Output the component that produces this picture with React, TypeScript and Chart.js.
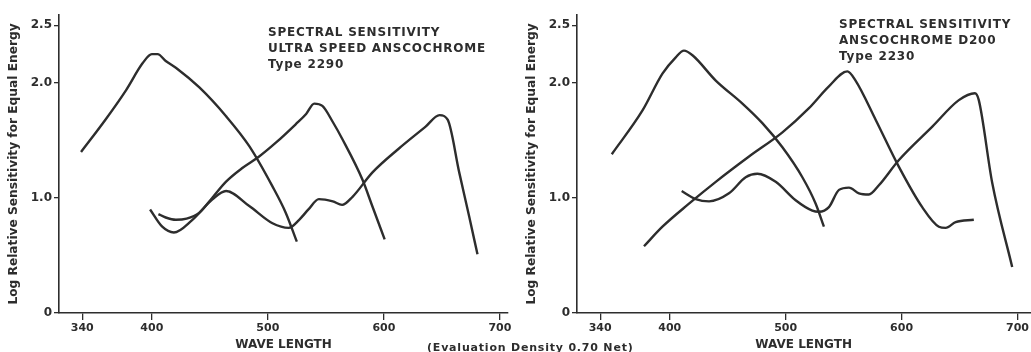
import React, { useEffect, useRef } from "react";
import { Chart, registerables } from "chart.js";

Chart.register(...registerables);

// ---- data (wavelength in nm, log relative sensitivity) ----
const xTicks = [340, 400, 500, 600, 700];
const yTicks = [0, 1, 2, 2.5];

// Ultra Speed Anscochrome Type 2290
const leftBlueX = [339, 360, 378, 392, 400, 405, 412, 421, 441, 464, 484, 504, 515.5, 525];
const leftBlueY = [1.4, 1.68, 1.94, 2.17, 2.25, 2.25, 2.19, 2.13, 1.96, 1.71, 1.45, 1.1, 0.87, 0.62];
const leftGreenX = [405.7, 412, 420.7, 430, 440.8, 452, 463.8, 478, 492.5, 506.9, 524, 533, 540, 547, 556, 564.3, 581.5, 590, 600.7];
const leftGreenY = [0.86, 0.83, 0.81, 0.82, 0.87, 1.0, 1.14, 1.26, 1.36, 1.48, 1.64, 1.73, 1.82, 1.8, 1.66, 1.51, 1.16, 0.93, 0.64];
const leftRedX = [398.5, 409, 419, 435, 452, 464, 484, 504, 518, 527, 535, 544, 556, 564, 573, 590, 613, 636, 648, 655, 665, 673.5, 680.7];
const leftRedY = [0.9, 0.75, 0.7, 0.81, 0.985, 1.06, 0.93, 0.78, 0.74, 0.81, 0.9, 0.99, 0.97, 0.94, 1.01, 1.22, 1.43, 1.62, 1.72, 1.68, 1.22, 0.84, 0.51];

// Anscochrome D200 Type 2230
const rightBlueX = [350, 376.5, 393.7, 405, 412.3, 419.6, 439.7, 462.7, 479.9, 497.2, 514.4, 525.9, 533];
const rightBlueY = [1.38, 1.76, 2.08, 2.22, 2.28, 2.24, 2.02, 1.82, 1.65, 1.44, 1.18, 0.95, 0.75];
const rightGreenX = [377.8, 393.7, 416.6, 439.7, 468.4, 497.2, 520.1, 537.3, 553.2, 560.3, 577.6, 597.7, 617.8, 632.2, 638, 646.6, 662.3];
const rightGreenY = [0.58, 0.75, 0.95, 1.14, 1.36, 1.57, 1.78, 1.97, 2.1, 2.02, 1.68, 1.27, 0.92, 0.75, 0.74, 0.79, 0.81];
const rightRedX = [410.3, 422.4, 433.9, 451.1, 465.5, 475.6, 491.4, 508.6, 523, 528.7, 537.3, 546, 554.6, 563.2, 571.8, 580.4, 597.7, 626.5, 649.4, 663.2, 666.6, 678.2, 695.4];
const rightRedY = [1.06, 0.99, 0.97, 1.04, 1.18, 1.21, 1.14, 0.98, 0.89, 0.88, 0.92, 1.07, 1.09, 1.04, 1.03, 1.11, 1.33, 1.62, 1.85, 1.91, 1.85, 1.13, 0.4];

const leftTitle = ["SPECTRAL SENSITIVITY", "ULTRA SPEED ANSCOCHROME", "Type 2290"];
const rightTitle = ["SPECTRAL SENSITIVITY", "ANSCOCHROME D200", "Type 2230"];
const yTitle = "Log Relative Sensitivity for Equal Energy";
const xTitle = "WAVE LENGTH";
const footnote = "(Evaluation Density 0.70 Net)";

const INK = "#2d2d2d";
const FONT = "'DejaVu Sans', sans-serif";

const zip = (xs: number[], ys: number[]) => xs.map((x, i) => ({ x, y: ys[i] }));

function makeConfig(series: { x: number[]; y: number[] }[], xMax: number, yWidth: number, padRight: number): any {
  return {
    type: "line",
    data: {
      datasets: series.map((s) => ({
        data: zip(s.x, s.y),
        borderColor: INK,
        borderWidth: 2.4,
        pointRadius: 0,
        fill: false,
        cubicInterpolationMode: "monotone",
      })),
    },
    options: {
      animation: false,
      responsive: true,
      maintainAspectRatio: false,
      layout: { padding: { top: 15, right: padRight, left: 0, bottom: 0 } },
      plugins: { legend: { display: false }, tooltip: { enabled: false } },
      scales: {
        x: {
          type: "linear",
          min: 320,
          max: xMax,
          afterBuildTicks: (s: any) => {
            s.ticks = xTicks.map((v) => ({ value: v }));
          },
          afterFit: (s: any) => {
            s.height = 39;
          },
          grid: { display: true, drawOnChartArea: false, drawTicks: true, tickLength: 7, color: INK, lineWidth: 1.3 },
          border: { display: true, color: INK, width: 1.6 },
          ticks: {
            color: INK,
            font: { family: FONT, size: 11, weight: "bold" },
            padding: 2,
            maxRotation: 0,
            autoSkip: false,
          },
          title: {
            display: true,
            text: xTitle,
            color: INK,
            font: { family: FONT, size: 12, weight: "bold" },
            padding: { top: 0, bottom: 0 },
          },
        },
        y: {
          type: "linear",
          min: 0,
          max: 2.59,
          afterBuildTicks: (s: any) => {
            s.ticks = yTicks.map((v) => ({ value: v }));
          },
          afterFit: (s: any) => {
            s.width = yWidth;
          },
          grid: { display: true, drawOnChartArea: false, drawTicks: true, tickLength: 5, color: INK, lineWidth: 1.3 },
          border: { display: true, color: INK, width: 1.6 },
          ticks: {
            color: INK,
            font: { family: FONT, size: 12, weight: "bold" },
            padding: 2,
            autoSkip: false,
            callback: (v: number) => (v === 0 ? "0" : v.toFixed(1)),
          },
          title: {
            display: true,
            text: yTitle,
            color: INK,
            font: { family: FONT, size: 12.2, weight: "bold" },
            padding: { top: yWidth - 52, bottom: 0 },
          },
        },
      },
    },
  };
}

function Panel({ series, xMax, yWidth, padRight, left, width }: any) {
  const ref = useRef<HTMLCanvasElement>(null);
  useEffect(() => {
    const chart = new Chart(ref.current as HTMLCanvasElement, makeConfig(series, xMax, yWidth, padRight));
    return () => chart.destroy();
  }, []);
  return (
    <div style={{ position: "absolute", left, top: 0, width, height: 352 }}>
      <canvas ref={ref} />
    </div>
  );
}

const titleStyle: React.CSSProperties = {
  position: "absolute",
  fontFamily: FONT,
  fontWeight: "bold",
  fontSize: 12,
  letterSpacing: "0.8px",
  lineHeight: "16px",
  color: INK,
  whiteSpace: "nowrap",
};

export default function App() {
  return (
    <div style={{ position: "absolute", left: 0, top: 0, width: 1031, height: 352, background: "#fff", overflow: "hidden" }}>
      <Panel
        series={[
          { x: leftBlueX, y: leftBlueY },
          { x: leftGreenX, y: leftGreenY },
          { x: leftRedX, y: leftRedY },
        ]}
        xMax={707}
        yWidth={59}
        padRight={7}
        left={0}
        width={515}
      />
      <Panel
        series={[
          { x: rightBlueX, y: rightBlueY },
          { x: rightGreenX, y: rightGreenY },
          { x: rightRedX, y: rightRedY },
        ]}
        xMax={711}
        yWidth={62}
        padRight={0}
        left={515}
        width={516}
      />
      <div style={{ ...titleStyle, left: 268, top: 24 }}>
        {leftTitle.map((t) => (
          <div key={t}>{t}</div>
        ))}
      </div>
      <div style={{ ...titleStyle, left: 839, top: 16 }}>
        {rightTitle.map((t) => (
          <div key={t}>{t}</div>
        ))}
      </div>
      <div style={{ ...titleStyle, fontSize: 11, letterSpacing: "0.8px", lineHeight: "14px", left: 427, top: 341 }}>{footnote}</div>
    </div>
  );
}
